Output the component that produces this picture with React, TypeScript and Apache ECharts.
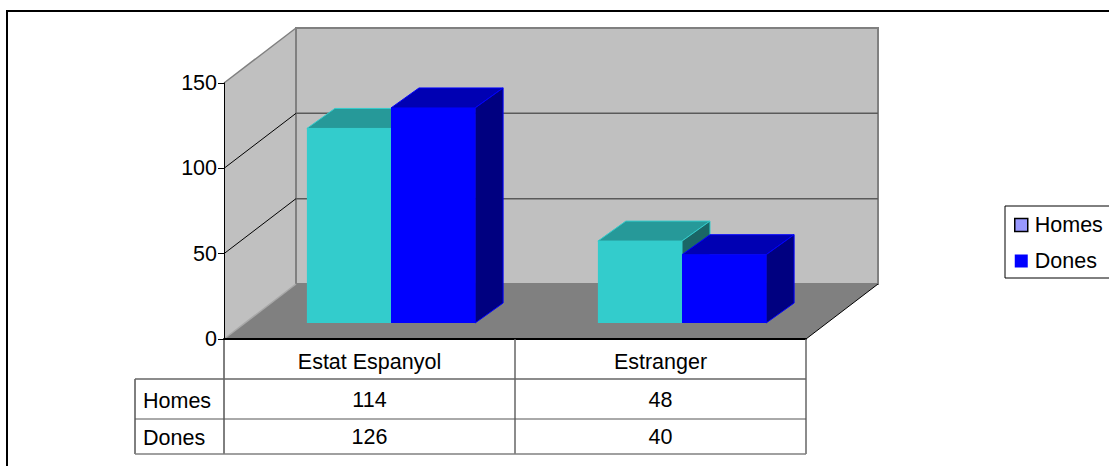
import React, { useEffect, useRef } from "react";
import * as echarts from "echarts";

const categories = ["Estat Espanyol", "Estranger"];
const seriesNames = ["Homes", "Dones"];
const homes = [114, 48];
const dones = [126, 40];
const yTicks = [50, 100];

const FONT = "'Liberation Sans', Arial, sans-serif";
const FS = 21.5;
const DEPTH_X = 72;
const DEPTH_Y = 55;

const shapeStyle = (fill: string, stroke?: string, lw = 1) => ({
  fill,
  stroke: stroke ?? "none",
  lineWidth: lw,
});

function renderWalls(params: any) {
  const c = params.coordSys;
  const L = c.x, R = c.x + c.width, T = c.y, B = c.y + c.height;
  const dx = DEPTH_X, dy = DEPTH_Y;
  const gray = "#808080";
  return {
    type: "group",
    children: [
      { type: "polygon", shape: { points: [[L, T], [L + dx, T - dy], [L + dx, B - dy], [L, B]] }, style: shapeStyle("#c0c0c0") },
      { type: "rect", shape: { x: L + dx, y: T - dy, width: R - L, height: c.height }, style: shapeStyle("#c0c0c0", gray, 2) },
      { type: "polygon", shape: { points: [[L, B], [R, B], [R + dx, B - dy], [L + dx, B - dy]] }, style: shapeStyle("#808080") },
      { type: "line", shape: { x1: L, y1: T, x2: L + dx, y2: T - dy }, style: { stroke: gray, lineWidth: 1.5 } },
      { type: "line", shape: { x1: L, y1: B, x2: L + dx, y2: B - dy }, style: { stroke: "#a8a8a8", lineWidth: 1.5 } },
      { type: "line", shape: { x1: R, y1: B, x2: R + dx, y2: B - dy }, style: { stroke: "#000", lineWidth: 1 } },
    ],
  };
}

function renderGrid(params: any, api: any) {
  const c = params.coordSys;
  const y = api.coord([0, api.value(0)])[1];
  return {
    type: "group",
    children: [
      { type: "line", shape: { x1: c.x, y1: y, x2: c.x + DEPTH_X, y2: y - DEPTH_Y }, style: { stroke: "#000", lineWidth: 1 } },
      { type: "line", shape: { x1: c.x + DEPTH_X, y1: y - DEPTH_Y, x2: c.x + DEPTH_X + c.width, y2: y - DEPTH_Y }, style: { stroke: "#5a5a5a", lineWidth: 1.5 } },
    ],
  };
}

function makeBar(side: number, front: string, top: string, right: string, edge: string) {
  return (_params: any, api: any) => {
    const cat = api.value(0);
    const [cx, y0] = api.coord([cat, 0]);
    const y1 = api.coord([cat, api.value(1)])[1];
    const band = api.size([1, 0])[0];
    const w = band * 0.289;
    const shiftX = 21.5;
    const shiftY = 16;
    const x0 = cx + shiftX + (side === 0 ? -w : 0);
    const x1 = x0 + w;
    const b = y0 - shiftY;
    const t = y1 - shiftY;
    const ddx = 28;
    const ddy = 20;
    return {
      type: "group",
      children: [
        { type: "polygon", shape: { points: [[x0, t], [x0 + ddx, t - ddy], [x1 + ddx, t - ddy], [x1, t]] }, style: shapeStyle(top, edge, 1) },
        { type: "polygon", shape: { points: [[x1, t], [x1 + ddx, t - ddy], [x1 + ddx, b - ddy], [x1, b]] }, style: shapeStyle(right, edge, 1) },
        { type: "rect", shape: { x: x0, y: t, width: w, height: b - t }, style: shapeStyle(front) },
      ],
    };
  };
}

function tableGraphics() {
  const rows = [339, 379, 419, 454];
  const cols = [135, 224, 515, 806];
  const dark = "#555555";
  const out: any[] = [];
  const line = (x1: number, y1: number, x2: number, y2: number, stroke = dark, lineWidth = 1) =>
    out.push({ type: "line", shape: { x1, y1, x2, y2 }, style: { stroke, lineWidth }, z: 6 });
  const text = (x: number, y: number, t: string, align: string) =>
    out.push({ type: "text", x, y, style: { text: t, fill: "#000", font: `${FS}px ${FONT}`, align, verticalAlign: "middle" }, z: 7 });
  line(cols[0], rows[1], cols[0], rows[3], "#000");
  line(cols[1], rows[0], cols[1], rows[3], "#000");
  line(cols[2], rows[0], cols[2], rows[3], "#666666", 1.5);
  line(cols[3], rows[0], cols[3], rows[3], "#666666", 1.5);
  line(cols[0], rows[1], cols[3], rows[1], "#666666", 1.5);
  line(cols[0], rows[2], cols[3], rows[2]);
  line(cols[0], rows[3], cols[3], rows[3], "#808080", 1.5);
  [homes, dones].forEach((vals, r) => {
    const cy = (rows[r + 1] + rows[r + 2]) / 2;
    text(cols[0] + 8, cy + (r === 0 ? 2 : 1), seriesNames[r], "left");
    vals.forEach((v, i) => text((cols[i + 1] + cols[i + 2]) / 2, cy + (r === 0 ? 1 : 0), String(v), "center"));
  });
  out.push({ type: "rect", shape: { x: 7, y: 11, width: 1200, height: 600 }, style: { fill: "none", stroke: "#000", lineWidth: 2 }, z: 8 });
  return out;
}

export default function App() {
  const ref = useRef<HTMLDivElement>(null);
  useEffect(() => {
    document.body.style.margin = "0";
    const chart = echarts.init(ref.current!, null, { renderer: "svg" });
    chart.setOption({
      animation: false,
      backgroundColor: "#fff",
      textStyle: { fontFamily: FONT },
      grid: { left: 224, top: 83, width: 582, height: 256 },
      xAxis: {
        type: "category",
        data: categories,
        z: 5,
        axisLine: { lineStyle: { color: "#000", width: 2 } },
        axisTick: { show: false },
        axisLabel: { color: "#000", fontSize: FS, fontFamily: FONT, margin: 12, interval: 0 },
      },
      yAxis: {
        type: "value",
        min: 0,
        max: 150,
        interval: 50,
        z: 5,
        splitLine: { show: false },
        axisLine: { show: true, lineStyle: { color: "#000", width: 1 } },
        axisTick: { show: true, length: 6, lineStyle: { color: "#000" } },
        axisLabel: { color: "#000", fontSize: FS, fontFamily: FONT, margin: 7 },
      },
      legend: {
        left: 1005,
        top: 206,
        orient: "vertical",
        padding: [8, 30, 6, 9],
        itemGap: 14,
        itemWidth: 13,
        itemHeight: 13,
        borderColor: "#000",
        borderWidth: 1,
        textStyle: { color: "#000", fontSize: FS, fontFamily: FONT, padding: [0, 0, 0, 2] },
        data: [
          { name: "Homes", icon: "rect", itemStyle: { color: "#9999ff", borderColor: "#000", borderWidth: 1.5 } },
          { name: "Dones", icon: "rect", itemStyle: { color: "#0000ff", borderWidth: 0 } },
        ],
      },
      series: [
        { type: "custom", name: "walls", z: 1, silent: true, renderItem: renderWalls, data: [[0]], clip: false },
        { type: "custom", name: "grid", z: 1, silent: true, renderItem: renderGrid, data: yTicks.map((v) => [v]), encode: { y: 0 }, clip: false },
        {
          type: "custom",
          name: seriesNames[0],
          z: 2,
          clip: false,
          itemStyle: { color: "#9999ff" },
          renderItem: makeBar(0, "#33cccc", "#269999", "#1a6666", "#33cccc"),
          data: homes.map((v, i) => [i, v]),
          encode: { x: 0, y: 1 },
        },
        {
          type: "custom",
          name: seriesNames[1],
          z: 3,
          clip: false,
          itemStyle: { color: "#0000ff" },
          renderItem: makeBar(1, "#0000ff", "#0000b3", "#000080", "#0000ff"),
          data: dones.map((v, i) => [i, v]),
          encode: { x: 0, y: 1 },
        },
      ],
      graphic: tableGraphics(),
    });
    return () => chart.dispose();
  }, []);
  return <div ref={ref} style={{ width: 1109, height: 466 }} />;
}
